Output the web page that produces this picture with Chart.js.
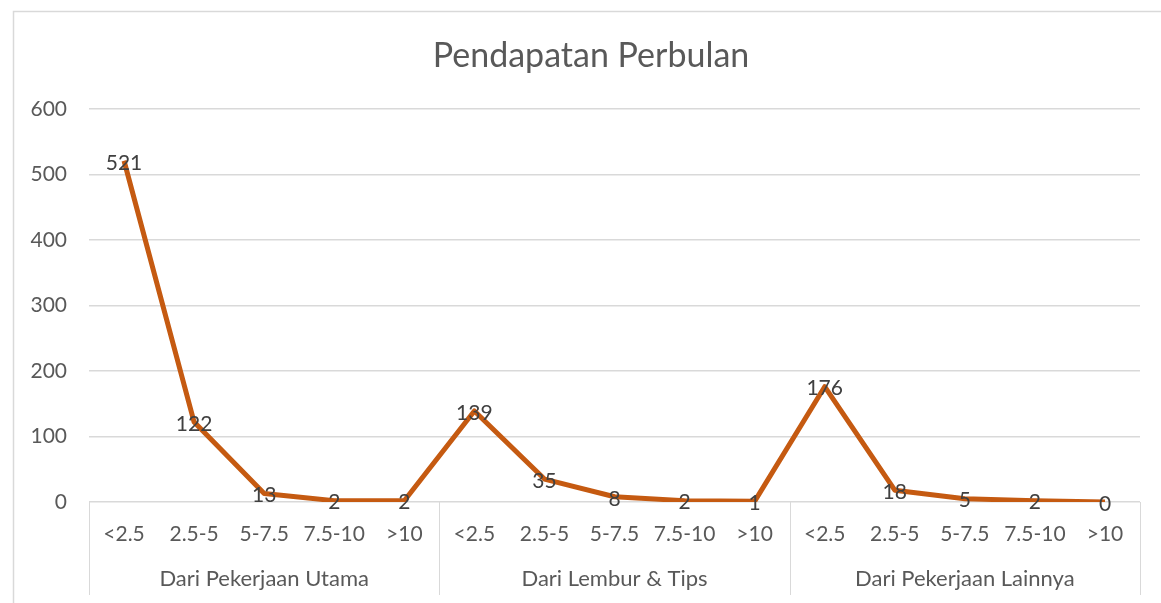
<!DOCTYPE html>
<html>
<head>
<meta charset="utf-8">
<script src="https://cdn.jsdelivr.net/npm/chart.js@4.4.1/dist/chart.umd.min.js"></script>
<style>
  html, body { margin: 0; padding: 0; background: #fff; }
  #wrap { width: 1161px; height: 603px; position: relative; }
</style>
</head>
<body>
<div id="wrap"><canvas id="incomeChart"></canvas></div>
<script>
const chartTitle = 'Pendapatan Perbulan';
const groups = ['Dari Pekerjaan Utama', 'Dari Lembur & Tips', 'Dari Pekerjaan Lainnya'];
const ranges = ['<2.5', '2.5-5', '5-7.5', '7.5-10', '>10'];
const utamaValues = [521, 122, 13, 2, 2];
const lemburValues = [139, 35, 8, 2, 1];
const lainnyaValues = [176, 18, 5, 2, 0];
const yTicks = [0, 100, 200, 300, 400, 500, 600];

const fontFamily = 'Lato, "Open Sans", sans-serif';
const textColor = '#595959';
const gridColor = '#d9d9d9';

const labels = [...ranges, ...ranges, ...ranges];
const values = [...utamaValues, ...lemburValues, ...lainnyaValues];

// frame, title, group row and point labels drawn by hand (Excel style)
const excelBits = {
    id: 'excelBits',
    beforeDraw(chart) {
        const ctx = chart.ctx;
        ctx.save();
        ctx.fillStyle = '#fff';
        ctx.fillRect(0, 0, chart.width, chart.height);
        ctx.strokeStyle = gridColor;
        ctx.lineWidth = 1.5;
        ctx.strokeRect(13.5, 11.5, chart.width + 20, chart.height + 20);
        ctx.restore();
    },
    afterDraw(chart) {
        const ctx = chart.ctx;
        const area = chart.chartArea;
        ctx.save();
        ctx.fillStyle = textColor;
        ctx.textAlign = 'center';
        ctx.textBaseline = 'middle';
        ctx.font = '34px ' + fontFamily;
        ctx.fillText(chartTitle, 591, 56);

        // group separators + group names
        const step = (area.right - area.left) / labels.length;
        ctx.strokeStyle = gridColor;
        ctx.lineWidth = 1;
        for (let g = 0; g <= groups.length; g++) {
            const gx = Math.round(area.left + g * ranges.length * step) + 0.5;
            ctx.beginPath();
            ctx.moveTo(gx, area.bottom);
            ctx.lineTo(gx, 595);
            ctx.stroke();
        }
        ctx.font = '22px ' + fontFamily;
        groups.forEach((name, g) => {
            const cx = area.left + (g + 0.5) * ranges.length * step;
            ctx.fillText(name, cx, 579);
        });

        // data labels centred on the points
        const meta = chart.getDatasetMeta(0);
        ctx.fillStyle = '#404040';
        ctx.font = '21px ' + fontFamily;
        meta.data.forEach((pt, i) => {
            ctx.fillText(String(values[i]), pt.x, pt.y + 2);
        });
        ctx.restore();
    }
};

new Chart(document.getElementById('incomeChart'), {
    type: 'line',
    data: {
        labels: labels,
        datasets: [{
            data: values,
            borderColor: '#C55A11',
            borderWidth: 5,
            pointRadius: 0,
            tension: 0,
            borderJoinStyle: 'round'
        }]
    },
    options: {
        responsive: true,
        maintainAspectRatio: false,
        animation: false,
        layout: { padding: { top: 109, right: 21, left: 0, bottom: 0 } },
        plugins: {
            legend: { display: false },
            title: { display: false },
            tooltip: { enabled: false }
        },
        scales: {
            x: {
                offset: true,
                grid: { display: false },
                border: { display: false },
                ticks: {
                    color: textColor,
                    font: { family: fontFamily, size: 21 },
                    padding: 12,
                    maxRotation: 0,
                    autoSkip: false
                },
                afterFit(scale) { scale.height = 101; }
            },
            y: {
                min: 0,
                max: 600,
                afterBuildTicks(scale) { scale.ticks = yTicks.map(v => ({ value: v })); },
                grid: { color: gridColor, lineWidth: 1.5, drawTicks: false },
                border: { display: false },
                ticks: {
                    color: textColor,
                    font: { family: fontFamily, size: 21 },
                    padding: 22
                },
                afterFit(scale) { scale.width = 89; }
            }
        }
    },
    plugins: [excelBits]
});
</script>
</body>
</html>
